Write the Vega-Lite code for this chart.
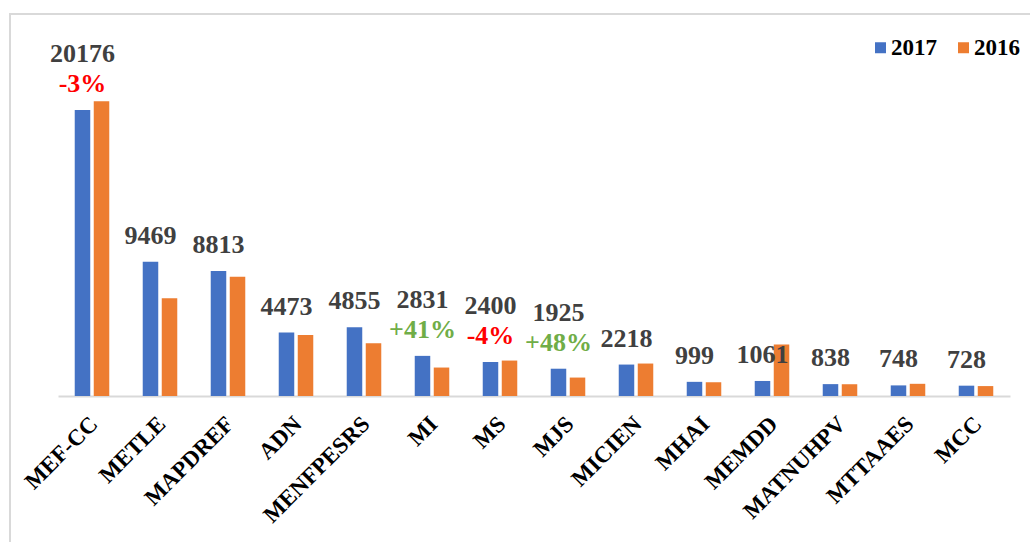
{
  "$schema": "https://vega.github.io/schema/vega-lite/v6.json",
  "width": 1020,
  "height": 528,
  "autosize": "none",
  "padding": {"left": 10, "top": 14, "right": 0, "bottom": 0},
  "background": "white",
  "config": {
    "font": "Liberation Serif",
    "view": {"stroke": "#d9d9d9", "strokeWidth": 2, "strokeDash": [1020, 1548, 528]},
    "locale": {"number": {"decimal": ".", "thousands": ",", "grouping": [3], "currency": ["$", ""], "minus": "-"}}
  },
  "data": {
    "values": [
      {"org": "MEF-CC", "year": "2017", "value": 20176, "change": -0.03},
      {"org": "MEF-CC", "year": "2016", "value": 20800},
      {"org": "METLE", "year": "2017", "value": 9469},
      {"org": "METLE", "year": "2016", "value": 6890},
      {"org": "MAPDREF", "year": "2017", "value": 8813},
      {"org": "MAPDREF", "year": "2016", "value": 8420},
      {"org": "ADN", "year": "2017", "value": 4473},
      {"org": "ADN", "year": "2016", "value": 4300},
      {"org": "MENFPESRS", "year": "2017", "value": 4855},
      {"org": "MENFPESRS", "year": "2016", "value": 3720},
      {"org": "MI", "year": "2017", "value": 2831, "change": 0.41},
      {"org": "MI", "year": "2016", "value": 2008},
      {"org": "MS", "year": "2017", "value": 2400, "change": -0.04},
      {"org": "MS", "year": "2016", "value": 2500},
      {"org": "MJS", "year": "2017", "value": 1925, "change": 0.48},
      {"org": "MJS", "year": "2016", "value": 1301},
      {"org": "MICIEN", "year": "2017", "value": 2218},
      {"org": "MICIEN", "year": "2016", "value": 2290},
      {"org": "MHAI", "year": "2017", "value": 999},
      {"org": "MHAI", "year": "2016", "value": 970},
      {"org": "MEMDD", "year": "2017", "value": 1061},
      {"org": "MEMDD", "year": "2016", "value": 3640},
      {"org": "MATNUHPV", "year": "2017", "value": 838},
      {"org": "MATNUHPV", "year": "2016", "value": 830},
      {"org": "MTTAAES", "year": "2017", "value": 748},
      {"org": "MTTAAES", "year": "2016", "value": 860},
      {"org": "MCC", "year": "2017", "value": 728},
      {"org": "MCC", "year": "2016", "value": 700}
    ]
  },
  "encoding": {
    "x": {
      "field": "org",
      "type": "nominal",
      "sort": null,
      "scale": {"range": [48, 1000], "paddingInner": 0, "paddingOuter": 0},
      "axis": {
        "title": null,
        "offset": -146,
        "domainColor": "#d9d9d9",
        "domainWidth": 2,
        "ticks": false,
        "labelAngle": -45,
        "labelAlign": "right",
        "labelBaseline": "middle",
        "labelFont": "Liberation Serif",
        "labelFontWeight": "bold",
        "labelFontSize": 23,
        "labelColor": "black",
        "labelPadding": 24,
        "labelOffset": 2,
        "labelLimit": 0
      }
    },
    "y": {
      "field": "value",
      "type": "quantitative",
      "scale": {"domain": [0, 26950], "range": [382, 0], "nice": false},
      "axis": null
    },
    "xOffset": {
      "field": "year",
      "type": "nominal",
      "sort": ["2017", "2016"],
      "scale": {"paddingInner": 0.184, "paddingOuter": 0.88}
    }
  },
  "layer": [
    {
      "mark": {"type": "bar"},
      "encoding": {
        "color": {
          "field": "year",
          "type": "nominal",
          "sort": ["2017", "2016"],
          "scale": {"domain": ["2017", "2016"], "range": ["#4472C4", "#ED7D31"]},
          "legend": {
            "title": null,
            "orient": "none",
            "legendX": 859,
            "legendY": 22,
            "direction": "horizontal",
            "symbolType": "square",
            "symbolSize": 121,
            "symbolStrokeWidth": 0,
            "labelFont": "Liberation Serif",
            "labelFontWeight": "bold",
            "labelFontSize": 23,
            "labelColor": "black",
            "labelOffset": -1,
            "columnPadding": 15
          }
        }
      }
    },
    {
      "transform": [{"filter": "datum.year == '2017' && !isValid(datum.change)"}],
      "mark": {"type": "text", "dy": -18, "baseline": "alphabetic", "fontSize": 26, "fontWeight": "bold", "color": "#404040", "font": "Liberation Serif"},
      "encoding": {"text": {"field": "value", "type": "quantitative", "format": "d"}}
    },
    {
      "transform": [{"filter": "datum.year == '2017' && isValid(datum.change)"}],
      "mark": {"type": "text", "dy": -48, "baseline": "alphabetic", "fontSize": 26, "fontWeight": "bold", "color": "#404040", "font": "Liberation Serif"},
      "encoding": {"text": {"field": "value", "type": "quantitative", "format": "d"}}
    },
    {
      "transform": [{"filter": "datum.year == '2017' && isValid(datum.change)"}],
      "mark": {"type": "text", "dy": -18, "baseline": "alphabetic", "fontSize": 26, "fontWeight": "bold", "font": "Liberation Serif"},
      "encoding": {
        "text": {"field": "change", "type": "quantitative", "format": "+.0%"},
        "color": {"condition": {"test": "datum.change < 0", "value": "#FF0000"}, "value": "#70AD47"}
      }
    }
  ]
}
